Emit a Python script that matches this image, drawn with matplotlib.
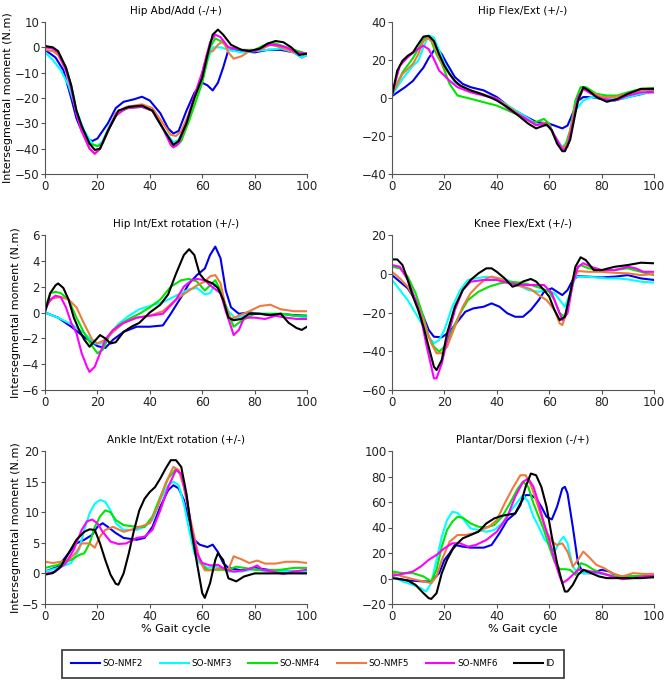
import matplotlib
matplotlib.use("Agg")
import matplotlib.pyplot as plt
from matplotlib.lines import Line2D

# series labels and colours
labels = ['SO-NMF2', 'SO-NMF3', 'SO-NMF4', 'SO-NMF5', 'SO-NMF6', 'ID']
colors = ['#0000f0', '#00ffff', '#00e600', '#ef7a3e', '#ff00ff', '#000000']

titles = ['Hip Abd/Add (-/+)', 'Hip Flex/Ext (+/-)', 'Hip Int/Ext rotation (+/-)',
          'Knee Flex/Ext (+/-)', 'Ankle Int/Ext rotation (+/-)', 'Plantar/Dorsi flexion (-/+)']
yticks = [[10, 0, -10, -20, -30, -40, -50], [40, 20, 0, -20, -40], [6, 4, 2, 0, -2, -4, -6],
          [20, 0, -20, -40, -60], [20, 15, 10, 5, 0, -5], [100, 80, 60, 40, 20, 0, -20]]
xticks = [0, 20, 40, 60, 80, 100]

# --- Hip Abd/Add (% gait, N.m) ---
hab_nmf2 = [(0,-1),(4,-4),(7,-9),(10,-20),(12,-28),(14,-33),(16,-36),(18,-37),(20,-36),(22,-33),(24,-30),
            (27,-24),(30,-21.5),(34,-20.5),(37,-19.5),(40,-21),(44,-26),(47,-32),(49,-34),(51,-33),
            (54,-25),(57,-18),(60,-14),(62,-15),(64,-17),(66,-14),(68,-8),(70,-1),(75,-1.5),(80,-2),
            (85,-1),(90,-1),(95,-2),(98,-4),(100,-3)]
hab_nmf3 = [(0,-2),(3,-5),(6,-9),(9,-15),(12,-25),(15,-33),(18,-38),(20,-39),(22,-37),(25,-30),(28,-25),
            (32,-23.5),(37,-23),(41,-25),(45,-32),(49,-37.5),(51,-36.5),(54,-29),(57,-20),(60,-13),
            (62,-5),(64,0),(67,0),(70,-1),(75,-2),(80,-1.5),(85,-1),(90,-0.5),(95,-2),(98,-4),(100,-3)]
hab_nmf4 = [(0,0.5),(3,-0.5),(5,-2),(8,-8),(10,-15),(12,-25),(14,-32),(17,-38),(20,-39),(22,-38),(25,-31),
            (28,-25.5),(32,-24),(37,-23.5),(41,-25),(45,-32),(48,-38),(50,-39),(52,-37),(55,-29),
            (58,-20),(60,-14),(62,-5),(63,0),(65,3.5),(67,2.5),(70,0),(75,-1),(80,-1),(85,1.5),
            (88,1.5),(95,-1),(100,-2.5)]
hab_nmf5 = [(0,-1),(3,-1.5),(5,-3),(8,-9),(10,-16),(12,-26),(14,-33),(17,-40),(19,-42),(21,-40),(24,-33),
            (27,-26),(31,-23.5),(37,-22.5),(41,-24),(45,-30),(48,-34.5),(50,-35),(52,-33),(55,-26),
            (58,-17),(60,-10),(62,-2),(64,-1.5),(66,1),(68,2.5),(70,-2),(72,-4.5),(75,-3.5),(78,-1.5),
            (82,-1),(86,1),(90,0),(95,-2),(100,-2.5)]
hab_nmf6 = [(0,0),(3,-0.5),(5,-2),(8,-9),(10,-16),(12,-26),(14,-33),(17,-40),(19,-42),(21,-40),(24,-33),
            (27,-27),(31,-24),(37,-23.5),(41,-25),(45,-32),(48,-38.5),(49,-39.5),(51,-38),(54,-30),
            (57,-19),(60,-10),(63,2),(65,5),(67,4),(70,0),(75,-1),(80,-1.5),(85,1),(88,1),(92,0),
            (96,-2),(100,-2.5)]
hab_id = [(0,0.5),(3,0),(5,-1.5),(8,-8),(10,-15),(12,-25),(14,-31),(17,-38),(19,-40.5),(21,-40),(24,-33),
          (28,-25),(32,-23.5),(37,-23),(41,-25),(45,-32),(49,-38.5),(51,-37),(54,-30),(57,-20),(60,-12),
          (62,-3),(64,5),(66,7),(68,5),(71,1),(75,-1),(78,-1.5),(82,-0.5),(85,1.5),(88,2.5),(91,2),
          (94,0),(97,-3),(100,-2.5)]

# --- Hip Flex/Ext ---
hfe_nmf2 = [(0,1),(5,5.7),(8,9),(10,12.6),(12,16),(14,21),(16,25),(17,26.5),(19,23),(21,18),(24,11),
            (27,7.4),(30,5.7),(35,4),(40,0.5),(45,-5),(50,-9),(55,-12.6),(60,-13.5),(63,-15),(65,-16),
            (67,-14.5),(69,-8),(71,-1.5),(73,0.5),(76,0.5),(80,-0.5),(85,-1.3),(90,0.5),(95,2),(100,4)]
hfe_nmf3 = [(0,1.5),(4,10),(8,17),(10,19.6),(12,26.6),(14,33),(16,31.8),(18,25),(20,18),(24,8),(30,4),
            (40,-0.4),(50,-9),(55,-13.5),(58,-14.3),(60,-15),(63,-22),(65,-25.7),(67,-23),(70,-6.5),
            (73,-1.3),(76,0.5),(82,-0.4),(88,-0.4),(95,2.2),(100,3)]
hfe_nmf4 = [(0,2),(4,13.5),(8,21),(11,28.3),(13,32.7),(15,30),(17,23),(19,18),(22,7.4),(25,1.3),(30,-0.4),
            (40,-4),(50,-10),(53,-12.6),(55,-12.6),(58,-11),(60,-13.5),(62,-20.5),(64,-25.7),(66,-25.7),
            (68,-17),(70,-1.3),(72,5.7),(74,5.7),(78,2.2),(82,1.3),(86,1.3),(90,3),(95,4.8),(100,5.3)]
hfe_nmf5 = [(0,2),(4,12.6),(8,18),(10,23),(12,30),(14,31.8),(16,28.3),(18,21.4),(20,16),(25,7.4),(30,4),
            (40,-0.4),(50,-10),(55,-14.3),(58,-13),(60,-14.3),(62,-20.5),(65,-26.5),(67,-24),(70,-4.8),
            (73,4.8),(76,3),(80,0.5),(85,0.5),(90,2.2),(95,4),(100,4.3)]
hfe_nmf6 = [(0,2),(3,17),(6,21.4),(9,25),(12,27.5),(14,25.7),(16,20.5),(18,14.4),(20,11.8),(22,9),(25,5.7),
            (30,3),(40,-0.4),(45,-6.5),(50,-10),(55,-14.3),(58,-13.5),(60,-15),(63,-22),(65,-27.4),
            (67,-25.7),(69,-13.5),(71,0.5),(73,4.8),(76,2.2),(80,-0.4),(85,-1.3),(90,1.3),(95,3),(100,3)]
hfe_id = [(0,1.3),(2,14.4),(4,19.6),(6,22.2),(8,24),(10,28.3),(12,32.3),(14,32.7),(16,30),(18,23),(20,17),
          (22,12.6),(24,9),(26,6.5),(30,4),(34,2.2),(38,0),(40,-1.3),(44,-4.8),(48,-9),(52,-13.5),
          (55,-16),(57,-15),(59,-14),(61,-17),(63,-24),(65,-28),(66,-28),(68,-22),(70,-8),(71,-1.5),
          (73,5.7),(75,4),(78,0.5),(82,-2),(86,-0.5),(90,2.2),(95,4.8),(100,4.8)]

# --- Hip Int/Ext rotation ---
hrot_nmf2 = [(0,0),(5,-0.4),(10,-1.1),(15,-1.9),(20,-2.6),(23,-2.75),(26,-2.1),(30,-1.5),(35,-1.1),
             (40,-1.1),(45,-1),(48,-0.1),(52,1.2),(55,2.25),(58,2.9),(61,3.4),(63,4.45),(65,5.1),
             (67,4.2),(69,1.7),(71,0.4),(74,-0.1),(78,0),(82,-0.1),(86,-0.2),(90,-0.1),(95,-0.2),(100,-0.25)]
hrot_nmf3 = [(0,0),(5,-0.4),(10,-0.9),(15,-1.6),(19,-2.4),(22,-2.4),(25,-1.6),(28,-0.9),(32,-0.25),
             (36,0.25),(40,0.5),(45,0.8),(50,1.3),(55,1.8),(58,1.9),(61,1.4),(63,1.5),(65,2.2),(67,1.5),
             (70,0.1),(73,-0.5),(78,-0.1),(85,-0.1),(90,-0.1),(95,-0.25),(100,-0.4)]
hrot_nmf4 = [(0,0.3),(2,1.5),(4,1.6),(6,1.5),(9,1),(12,-0.4),(15,-1.6),(18,-2.6),(20,-3.15),(22,-2.9),
             (25,-1.6),(28,-1),(32,-0.5),(36,-0.1),(40,0.4),(44,1),(48,2),(52,2.5),(55,2.6),(58,2.4),
             (61,1.7),(63,2.1),(65,2.5),(67,1.7),(70,-0.1),(72,-1.1),(75,-0.65),(80,-0.1),(85,-0.1),
             (90,-0.1),(95,-0.25),(100,-0.25)]
hrot_nmf5 = [(0,0.5),(3,1.1),(6,1.2),(9,1),(12,0.4),(15,-0.9),(18,-2.1),(20,-2.4),(23,-2.1),(26,-1.5),
             (30,-0.8),(35,-0.4),(40,-0.25),(45,0.1),(50,1),(55,1.7),(58,2.1),(61,2.4),(63,2.8),(65,2.9),
             (67,2.25),(69,0.4),(71,-0.5),(74,-0.25),(78,0.1),(82,0.5),(86,0.6),(90,0.25),(95,0.1),(100,0.1)]
hrot_nmf6 = [(0,0.2),(2,1),(4,1.3),(6,1.2),(8,0.4),(10,-0.8),(12,-1.6),(14,-3.15),(16,-4.2),(17,-4.6),
             (19,-4.2),(21,-3.15),(23,-2.1),(26,-1.35),(30,-0.8),(35,-0.4),(40,-0.25),(45,-0.1),(50,1),
             (53,2),(56,2.5),(58,2.6),(61,2.5),(63,2.1),(65,1.8),(67,1.5),(69,0.1),(71,-1.1),(72,-1.75),
             (74,-1.35),(76,-0.4),(80,-0.4),(84,-0.5),(88,-0.25),(92,-0.4),(96,-0.5),(100,-0.5)]
hrot_id = [(0,0),(2,1.5),(4,2.1),(5,2.25),(7,1.9),(9,1),(11,-0.4),(13,-1.35),(15,-2.1),(17,-2.65),
           (19,-2.2),(21,-1.75),(23,-2),(25,-2.4),(27,-2.3),(30,-1.5),(33,-1.1),(36,-0.8),(40,0),(44,0.6),
           (47,1.4),(50,3),(53,4.45),(55,4.9),(57,4.45),(59,3),(61,2.5),(64,2.25),(66,1.9),(68,1),
           (70,-0.4),(72,-0.6),(75,-0.5),(78,-0.1),(82,-0.1),(86,-0.2),(90,-0.1),(93,-0.8),(96,-1.2),
           (98,-1.35),(100,-1.1)]

# --- Knee Flex/Ext ---
knee_nmf2 = [(0,-0.7),(3,-4.1),(6,-7.5),(9,-13.6),(12,-22.2),(14,-29),(16,-32.5),(19,-32.8),(22,-29.9),
             (25,-24.7),(28,-19.6),(31,-17.9),(35,-17),(38,-15.3),(41,-17),(44,-20.4),(47,-22.2),
             (50,-22.2),(53,-18.7),(56,-13.6),(58,-9.3),(61,-7.5),(63,-9.3),(65,-11),(67,-8.4),(69,-3.2),
             (71,-1.2),(75,-1.5),(80,-1.9),(85,-1.5),(90,-0.7),(95,-2.4),(100,-3.2)]
knee_nmf3 = [(0,-3.2),(3,-8.4),(6,-13.6),(9,-20.4),(12,-27.3),(14,-32.5),(16,-35.9),(18,-34.2),(20,-29),
             (23,-17),(26,-8.4),(29,-3.2),(32,-2.4),(36,-1.5),(40,-2.4),(44,-3.2),(48,-5.8),(52,-8.4),
             (56,-9.3),(59,-8.4),(62,-10),(64,-13.6),(66,-17),(68,-10),(70,-1.5),(74,-1.5),(78,-1.9),
             (82,-2.4),(86,-2.4),(90,-2.9),(95,-4.1),(100,-4.6)]
knee_nmf4 = [(0,3.6),(3,2.8),(6,-1.5),(9,-10),(12,-22.2),(14,-32.5),(16,-37.7),(18,-40.2),(20,-37.7),
             (23,-29),(26,-20.4),(29,-13.6),(33,-9.3),(37,-6.7),(41,-5),(45,-4.1),(49,-4.6),(53,-5.8),
             (57,-7.5),(60,-9.3),(62,-13.6),(64,-20.4),(66,-22.2),(68,-11.8),(70,1.9),(72,4.5),(75,2.8),
             (80,1.9),(85,1.9),(90,2.8),(95,1),(100,-0.7)]
knee_nmf5 = [(0,1),(3,-2.4),(6,-6.7),(9,-13.6),(12,-23.9),(15,-35.9),(17,-41),(19,-41),(21,-37.7),
             (24,-27.3),(27,-17),(30,-10),(33,-5.8),(36,-2.4),(38,-1.5),(41,-2.4),(44,-4.1),(47,-5.8),
             (50,-6.7),(53,-8),(56,-11),(59,-13.6),(62,-18.7),(64,-25.6),(65,-26.5),(67,-18.7),(69,-3.2),
             (71,1.4),(75,1),(80,1),(85,0.5),(90,0.2),(95,-0.7),(100,-0.2)]
knee_nmf6 = [(0,4.5),(3,3.6),(6,-3.2),(9,-13.6),(11,-22.2),(13,-35.9),(15,-48),(16,-54),(17,-54),
             (19,-46.3),(21,-34.2),(24,-18.7),(27,-8.4),(30,-4.1),(35,-3.2),(40,-3.2),(45,-5),(50,-5.8),
             (55,-5.8),(58,-5.8),(61,-10),(63,-17),(65,-23.9),(67,-20.4),(69,-5),(71,3.6),(73,5.4),
             (76,3.6),(80,1.9),(85,1.9),(90,3.6),(93,2.8),(96,1),(100,1)]
knee_id = [(0,7.4),(2,7.4),(4,4.5),(6,-3.2),(8,-11.8),(10,-18.7),(12,-27.3),(14,-37.7),(16,-48),
           (17,-49.7),(19,-44.5),(21,-30.8),(24,-17),(27,-8.4),(30,-3.2),(33,0.2),(36,2.8),(38,2.8),
           (40,1),(43,-2.4),(46,-6.7),(48,-5.8),(50,-4),(53,-2.7),(55,-4),(58,-8.4),(60,-11.8),
           (62,-18.7),(64,-23.9),(66,-22.2),(68,-10),(70,3.6),(72,8.5),(74,7),(77,1.9),(80,1.9),
           (85,3.6),(90,4.5),(95,5.7),(100,5.4)]

# --- Ankle Int/Ext rotation ---
arot_nmf2 = [(0,0.3),(5,1.1),(9,3.3),(12,4.9),(15,5.5),(18,6.3),(20,7.6),(22,8.2),(24,7.6),(27,6.6),
             (30,5.8),(35,5.5),(38,5.8),(41,7.6),(44,10.9),(47,13.6),(49,14.4),(51,13.9),(53,12),
             (55,8.7),(57,5.5),(59,4.7),(62,4.3),(64,4.7),(66,3.5),(68,1.7),(70,0.9),(75,0.5),(80,0.9),
             (85,0.6),(90,0.3),(95,0.3),(100,0.3)]
arot_nmf3 = [(0,0.3),(5,0.9),(10,1.7),(13,3.9),(15,7.1),(17,9.8),(19,11.4),(21,12),(23,11.7),(25,10.3),
             (27,8.2),(30,7.1),(35,7.1),(38,7.6),(41,8.7),(44,12),(47,14.4),(49,15),(51,14.4),(53,11.4),
             (55,7.1),(57,3.3),(59,1.7),(62,0.9),(65,1.1),(67,0.9),(70,0.3),(75,0.3),(80,0.7),(85,0.3),
             (90,0.3),(95,0.3),(100,0.3)]
arot_nmf4 = [(0,0.9),(5,1.4),(10,2.2),(13,3),(15,3.3),(17,4.9),(19,7.6),(21,9.3),(23,10.3),(25,10),
             (27,8.7),(30,7.9),(35,7.6),(38,7.6),(41,9.3),(44,12.5),(47,15.5),(50,17.1),(52,16),
             (54,12.5),(56,7.1),(58,3.3),(60,1.4),(62,0.6),(66,0.6),(70,0.6),(73,1.1),(76,0.9),(80,0.6),
             (85,0.5),(90,0.6),(95,0.9),(100,0.9)]
arot_nmf5 = [(0,1.9),(3,1.7),(6,1.9),(9,2.2),(12,3.5),(14,4.9),(17,4.9),(19,4.2),(21,6),(23,7.1),
             (26,7.6),(30,6.8),(35,7.4),(40,8.2),(43,10.9),(46,14.7),(49,17.4),(51,16.9),(53,14.1),
             (55,9.8),(57,6),(59,2.2),(61,0.5),(64,0.5),(67,0.9),(70,0.6),(72,2.8),(75,2.3),(78,1.7),
             (81,2.1),(84,1.6),(88,1.6),(92,1.9),(96,1.9),(100,1.7)]
arot_nmf6 = [(0,-0.1),(4,0.3),(8,1.7),(11,3.9),(14,7.1),(16,8.5),(18,8.8),(20,8.2),(22,6.8),(25,5.2),
             (28,4.8),(31,4.9),(35,5.8),(38,6),(41,7.1),(44,10.3),(47,14.1),(50,16.9),(52,16.3),
             (54,12.5),(56,7.1),(58,3.3),(60,1.7),(63,1.3),(66,1.4),(69,0.6),(72,0.3),(76,0.5),(79,0.9),
             (81,1.3),(83,0.6),(87,0.3),(91,-0.1),(95,0.3),(100,0.6)]
arot_id = [(0,-0.2),(3,0.05),(6,1.1),(9,3.3),(12,5.5),(15,6.8),(17,7.2),(19,7.1),(21,4.9),(23,2.2),
           (25,-0.2),(27,-1.7),(28,-1.85),(30,0),(32,3.3),(34,7.1),(36,10.3),(38,12.2),(40,13.3),
           (42,14.1),(44,15.5),(46,17.1),(48,18.5),(50,18.5),(52,17.4),(54,13),(56,6.6),(58,1.7),
           (60,-3.2),(61,-4),(63,-1.6),(65,2.2),(66,3.3),(68,2.2),(70,-0.8),(73,-1.3),(76,-0.5),
           (80,0),(85,0),(90,0),(95,0),(100,0)]

# --- Plantar/Dorsi flexion ---
pdf_nmf2 = [(0,1),(3,-0.5),(6,-1.6),(9,-1.8),(12,-2.3),(15,-2.3),(18,4.2),(20,14.6),(22,19.8),(24,26.3),
            (27,25),(30,24.2),(35,24.2),(38,26.3),(41,35.4),(44,45.8),(47,51),(49,58.9),(51,65.4),
            (53,65.4),(55,62.8),(57,56.3),(59,48.4),(61,46.3),(63,56.3),(65,70.6),(66,71.9),(67,66.7),
            (69,40.6),(71,12),(73,4.2),(76,4.2),(80,6.8),(83,5.5),(86,1.6),(90,1.6),(95,1.6),(100,1.6)]
pdf_nmf3 = [(0,1.6),(4,-2.3),(8,-5),(11,-7.6),(13,-10.2),(15,-3.6),(17,14.6),(19,32.8),(21,45.8),
            (23,52.3),(25,51.5),(27,47.1),(30,39.3),(33,38),(36,36.7),(39,38),(42,43.2),(45,52.3),
            (48,60.2),(50,65.4),(52,60.2),(54,48.4),(56,40.6),(58,31.5),(60,26.3),(62,21.1),(64,28.9),
            (65.5,32.8),(67,27.6),(69,9.4),(71,4.2),(74,4.2),(78,4.2),(82,2.9),(86,1.6),(90,1.6),
            (95,1.6),(100,1)]
pdf_nmf4 = [(0,5.5),(4,4.2),(8,4.2),(12,1.6),(15,-2.3),(17,6.8),(19,25),(21,38),(23,44.5),(25,48.4),
            (27,47.7),(30,43.2),(33,40.6),(36,40.1),(39,41.9),(42,48.4),(45,58.9),(48,70.6),(50,75.8),
            (52,71.9),(54,58.9),(56,48.4),(58,38),(60,25),(62,13.3),(64,7.3),(66,7.3),(68,6.8),
            (70,2.9),(72,12),(74,10.7),(77,6.8),(80,4.2),(85,1.6),(90,1.6),(95,2.1),(100,2.1)]
pdf_nmf5 = [(0,4.2),(4,1.6),(8,-0.5),(12,-2.3),(15,-3.6),(17,1.6),(19,14.6),(22,28.9),(25,34.1),
            (28,34.1),(31,35.4),(34,38),(37,40.6),(40,45.8),(43,58.9),(46,70.6),(49,81),(51,81),
            (53,73.2),(55,61.5),(57,48.4),(59,36.7),(61,28.9),(63,26.3),(65,27.6),(67,21.1),(69,9.4),
            (71,14.6),(73,21.1),(75,17.2),(78,10.7),(81,8.1),(84,4.2),(88,1.6),(92,4.2),(96,3.6),(100,3.6)]
pdf_nmf6 = [(0,2.1),(4,3.6),(8,5.5),(11,9.4),(14,14.6),(17,18.5),(20,23.7),(23,27.6),(26,27.6),
            (29,25),(32,26.3),(36,30.2),(40,36.7),(44,48.4),(47,64.1),(50,75.8),(52,78.4),(54,71.9),
            (56,58.9),(58,43.2),(60,30.2),(62,14.6),(64,1.6),(65,-3.6),(67,-1),(69,2.9),(71,6.8),
            (73,6.8),(76,5.5),(80,4.2),(84,1.6),(88,-0.5),(92,0.3),(96,1.6),(100,2.1)]
pdf_id = [(0,0.3),(3,-0.5),(6,-1.6),(9,-5),(12,-11.5),(14,-15.4),(15,-16),(17,-11.5),(19,4.2),(21,14.6),
          (23,22.4),(25,27.6),(27,31.5),(30,34.1),(33,36.7),(36,43.2),(39,47.1),(42,49.2),(45,50.3),
          (47,51),(49,57.6),(51,71.9),(53,82.3),(55,81),(57,71.9),(59,56.3),(61,32.8),(63,12),
          (65,-3.6),(66,-10.2),(67,-10.2),(69,-5),(71,2.9),(73,6.8),(76,4.2),(79,1.6),(82,0.3),
          (88,0.3),(95,0.3),(100,1)]

panels = [
    [hab_nmf2, hab_nmf3, hab_nmf4, hab_nmf5, hab_nmf6, hab_id],
    [hfe_nmf2, hfe_nmf3, hfe_nmf4, hfe_nmf5, hfe_nmf6, hfe_id],
    [hrot_nmf2, hrot_nmf3, hrot_nmf4, hrot_nmf5, hrot_nmf6, hrot_id],
    [knee_nmf2, knee_nmf3, knee_nmf4, knee_nmf5, knee_nmf6, knee_id],
    [arot_nmf2, arot_nmf3, arot_nmf4, arot_nmf5, arot_nmf6, arot_id],
    [pdf_nmf2, pdf_nmf3, pdf_nmf4, pdf_nmf5, pdf_nmf6, pdf_id],
]

plt.rcParams['font.family'] = 'DejaVu Sans'
fig = plt.figure(figsize=(6.68, 6.84), dpi=100)

W, H = 668., 684.
col_left = [45, 392]
row_box = [(22, 174), (235, 390), (451, 604)]

for i in range(6):
    r, c = divmod(i, 2)
    top, bot = row_box[r]
    ax = fig.add_axes([col_left[c] / W, 1 - bot / H, 262 / W, (bot - top) / H])
    for pts, col in zip(panels[i], colors):
        xs = [p[0] for p in pts]
        ys = [p[1] for p in pts]
        ax.plot(xs, ys, color=col, lw=1.5)
    ax.set_xlim(0, 100)
    ax.set_ylim(min(yticks[i]), max(yticks[i]))
    ax.set_xticks(xticks)
    ax.set_yticks(yticks[i])
    ax.spines['right'].set_color('none')
    ax.spines['top'].set_color('none')
    ax.spines['left'].set_color('#555555')
    ax.spines['bottom'].set_color('#555555')
    ax.tick_params(direction='out', length=3, labelsize=8.5, colors='#555555', labelcolor='#222222', pad=1)
    ax.set_title(titles[i], fontsize=7.5, pad=6)
    if c == 0:
        ax.set_ylabel('Intersegmental moment (N.m)', fontsize=8, labelpad=1)
    if r == 2:
        ax.set_xlabel('% Gait cycle', fontsize=8, labelpad=1)

handles = [Line2D([], [], color=col, lw=1.5) for col in colors]
leg = fig.legend(handles, labels, ncol=6, loc='center', bbox_to_anchor=(313 / W, 1 - 664 / H),
                 fontsize=6.3, frameon=True, fancybox=False, handlelength=3.3, columnspacing=1.9,
                 handletextpad=0.3, borderpad=1.1, borderaxespad=0)
leg.get_frame().set_edgecolor('black')
leg.get_frame().set_linewidth(1.2)

fig.savefig('out.png', dpi=100)
